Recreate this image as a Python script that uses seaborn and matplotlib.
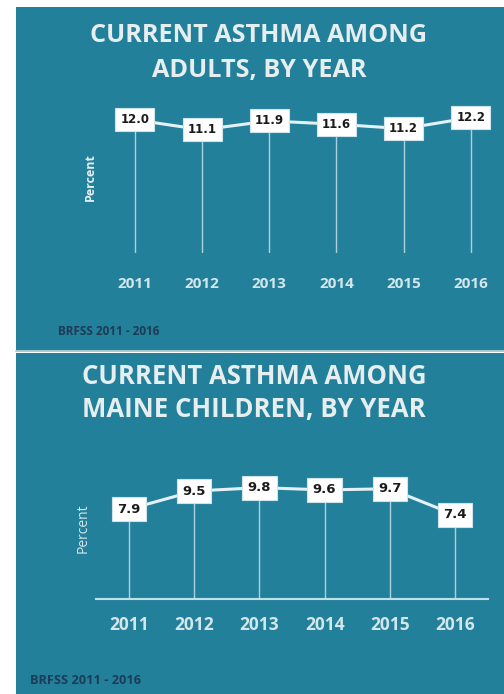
import matplotlib
matplotlib.use("Agg")
import matplotlib.pyplot as plt
from matplotlib.patches import Rectangle
from matplotlib.lines import Line2D
import seaborn as sns
import pandas as pd

# ---- data ----
years = ["2011", "2012", "2013", "2014", "2015", "2016"]
adults = [12.0, 11.1, 11.9, 11.6, 11.2, 12.2]
children = [7.9, 9.5, 9.8, 9.6, 9.7, 7.4]
source_note = "BRFSS 2011 - 2016"
title_adults = ["CURRENT ASTHMA AMONG", "ADULTS, BY YEAR"]
title_children = ["CURRENT ASTHMA AMONG", "MAINE CHILDREN, BY YEAR"]

W, H = 504, 694
TEAL = "#23809A"
TITLE_C = "#E6EEF0"
YEAR_C = "#D3E6EC"
LINE_C = "#E4F2F7"
DROP_C = "#A9D2DE"
NOTE_C = "#1D3B58"

sns.set_theme(style="white")
plt.rcParams["font.family"] = ["Open Sans", "DejaVu Sans"]

fig = plt.figure(figsize=(W / 100, H / 100), dpi=100)
fig.patch.set_facecolor("white")


def fx(x):
    return x / W


def fy(y):
    return 1 - y / H


def axes_box(left, right, top, bottom):
    return [fx(left), fy(bottom), (right - left) / W, (bottom - top) / H]


# panels
fig.add_artist(Rectangle((fx(16), fy(350.5)), (W - 16) / W, (350.5 - 7) / H,
                         transform=fig.transFigure, facecolor=TEAL, edgecolor="none", zorder=0))
fig.add_artist(Rectangle((fx(16), fy(694)), (W - 16) / W, (694 - 352.5) / H,
                         transform=fig.transFigure, facecolor=TEAL, edgecolor="none", zorder=0))
fig.add_artist(Line2D([fx(16), 1], [fy(351.5), fy(351.5)], transform=fig.transFigure,
                      color="#A6CAD3", lw=1.4, zorder=1))


def draw_panel(ax, values, ylim, xlim, label_size, year_size, year_pad, baseline):
    df = pd.DataFrame({"pos": range(len(years)), "value": values})
    ax.set_facecolor("none")
    ax.vlines(df["pos"], 0, df["value"], color=DROP_C, lw=1.0, zorder=1)
    sns.lineplot(data=df, x="pos", y="value", ax=ax, color=LINE_C, lw=2.2,
                 zorder=2, legend=False)
    for p, v in zip(df["pos"], df["value"]):
        ax.text(p, v, f"{v:.1f}", ha="center", va="center", fontsize=label_size,
                fontweight="bold", color="#1b1b1b", family="DejaVu Sans", zorder=3,
                clip_on=False,
                bbox=dict(boxstyle="square,pad=0.42", facecolor="white",
                          edgecolor="#CFE3EA", lw=0.8))
    ax.set_xlim(*xlim)
    ax.set_ylim(*ylim)
    ax.set_xticks(df["pos"])
    ax.set_xticklabels(years, color=YEAR_C, fontsize=year_size, fontweight="bold")
    ax.tick_params(axis="x", length=0, pad=year_pad)
    ax.set_yticks([])
    ax.set_xlabel("")
    ax.set_ylabel("")
    for s in ax.spines.values():
        s.set_visible(False)
    if baseline:
        ax.spines["bottom"].set_visible(True)
        ax.spines["bottom"].set_color("#BFE0EA")
        ax.spines["bottom"].set_linewidth(1.5)


# adults
ax1 = fig.add_axes(axes_box(114.8, 491, 97.6, 253))
draw_panel(ax1, adults, (0, 14), (-0.3, 5.3), 8.5, 11, 17, False)
fig.text(fx(259), fy(35), title_adults[0], ha="center", va="center",
         fontsize=18.2, fontweight="bold", color=TITLE_C)
fig.text(fx(259), fy(70), title_adults[1], ha="center", va="center",
         fontsize=18.2, fontweight="bold", color=TITLE_C)
fig.text(fx(90), fy(177), "Percent", rotation=90, ha="center", va="center",
         fontsize=9, fontweight="bold", color=TITLE_C)
fig.text(fx(58), fy(332), source_note, ha="left", va="center",
         fontsize=8.5, fontweight="bold", color=NOTE_C)

# children
ax2 = fig.add_axes(axes_box(96.4, 487.6, 474, 599))
draw_panel(ax2, children, (0, 11), (-0.5, 5.5), 9.5, 12.5, 12, True)
fig.text(fx(254), fy(377), title_children[0], ha="center", va="center",
         fontsize=18.5, fontweight="bold", color=TITLE_C)
fig.text(fx(254), fy(410), title_children[1], ha="center", va="center",
         fontsize=18.5, fontweight="bold", color=TITLE_C)
fig.text(fx(83), fy(528), "Percent", rotation=90, ha="center", va="center",
         fontsize=10, color=YEAR_C)
fig.text(fx(30), fy(680), source_note, ha="left", va="center",
         fontsize=9.2, fontweight="bold", color=NOTE_C)

fig.savefig("out.png", dpi=100, facecolor="white")
